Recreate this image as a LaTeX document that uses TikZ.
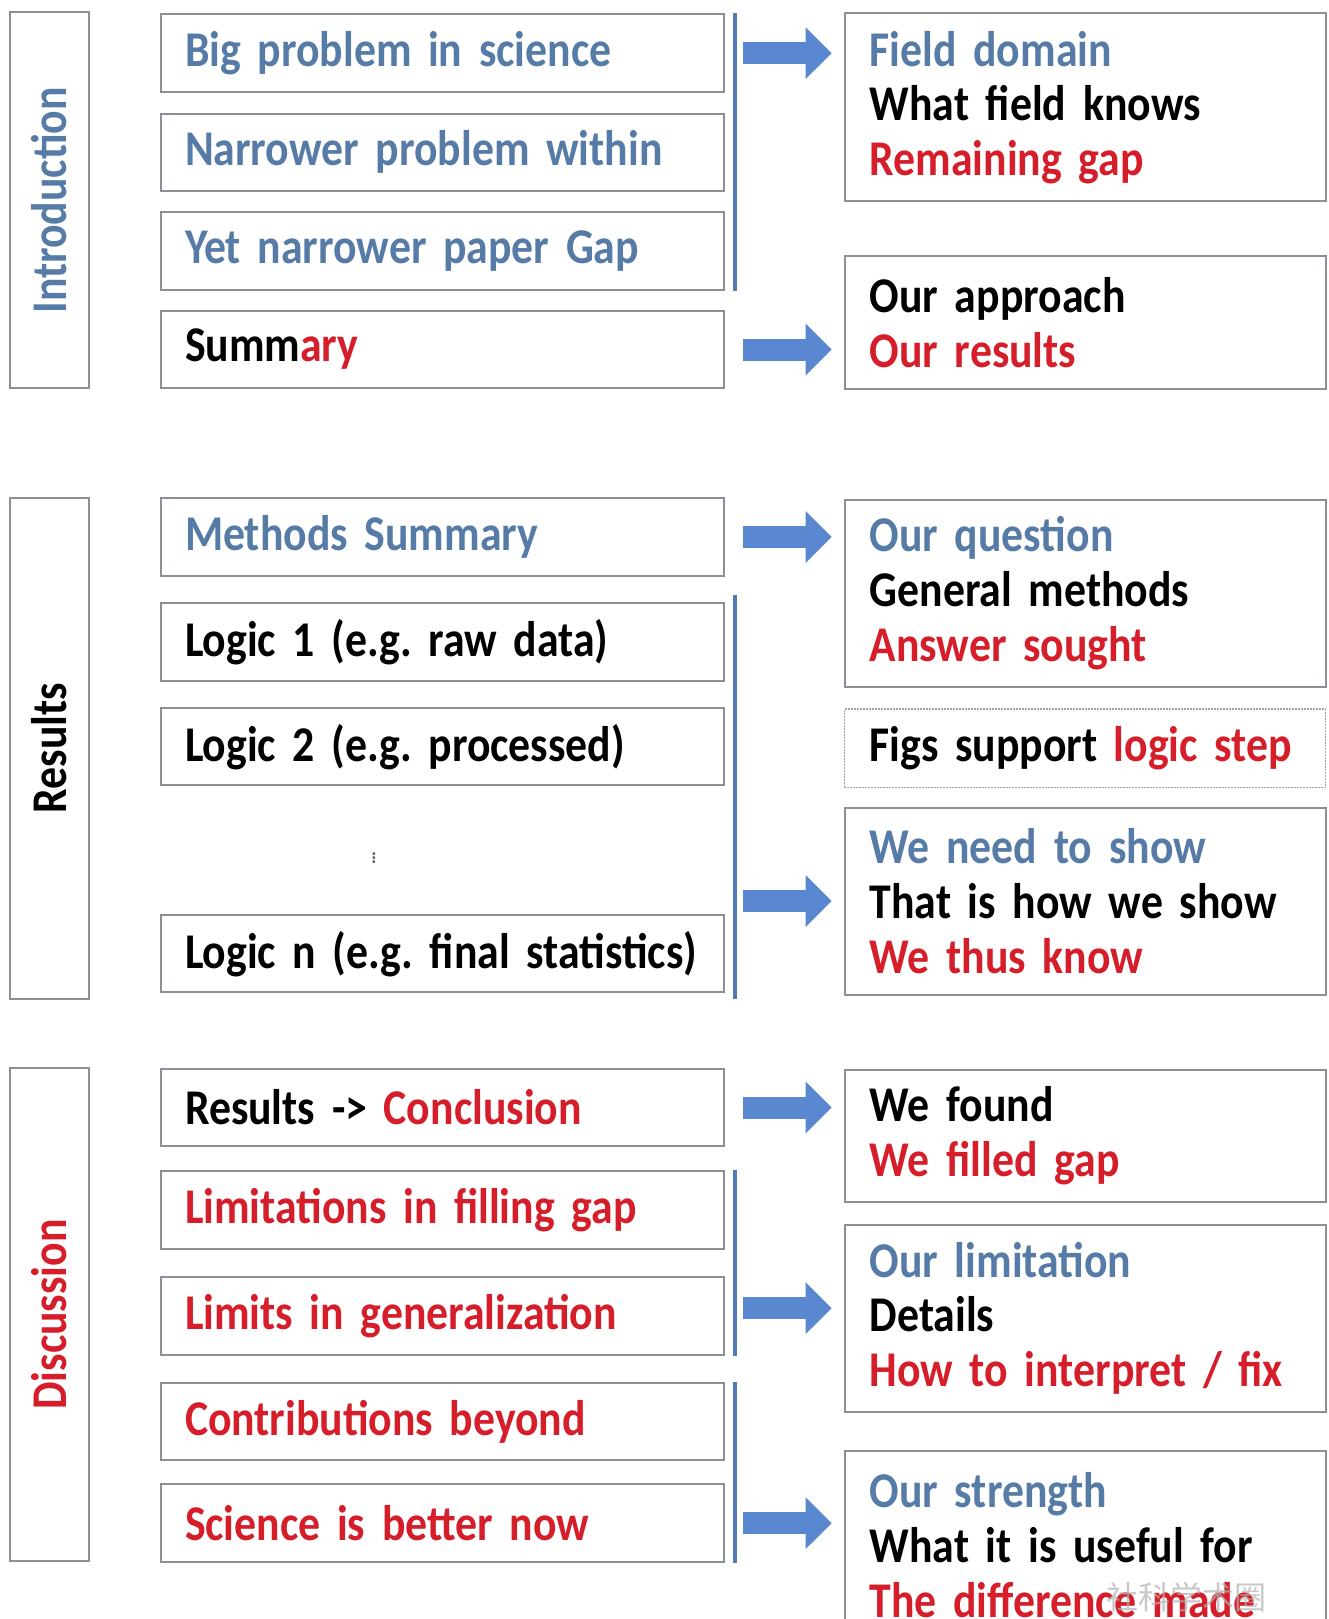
\documentclass[tikz,border=0pt]{standalone}
\usepackage{fontspec}
\setmainfont{Carlito}[FakeStretch=0.875, WordSpace=0.6]
\newfontfamily\cjkfont{Noto Sans CJK SC}
\usepackage{tikz}
\usetikzlibrary{arrows.meta,positioning}
\definecolor{txtblue}{RGB}{86,123,166}
\definecolor{txtred}{RGB}{214,30,42}
\definecolor{boxgray}{RGB}{138,144,150}
\definecolor{barblue}{RGB}{82,122,182}
\definecolor{arrblue}{RGB}{90,136,208}
\frenchspacing
\hyphenpenalty=10000

\begin{document}
\begin{tikzpicture}[x=1pt, y=-1pt,
    font=\bfseries\fontsize{50}{54.7}\selectfont,
    lbox/.style={draw=boxgray, line width=2pt, anchor=west, text width=515pt,
      inner xsep=24pt, minimum height=77.5pt, align=left},
    rbox/.style={draw=boxgray, line width=2pt, anchor=north west, text width=431pt,
      inner xsep=25pt, align=left},
    sidebox/.style={draw=boxgray, line width=2pt, rotate=90, minimum height=78.5pt},
    bar/.style={draw=barblue, line width=4pt},
    bigarrow/.style={arrblue, line width=22pt, -{Triangle[length=26pt,width=50pt]},
      shorten <=18pt, shorten >=12pt}]

    \useasboundingbox[fill=white] (0,0) rectangle (1329,1619);

    % Introduction
    \node[sidebox, minimum width=376pt, text=txtblue] (intro) at (49.5,200.4) {Introduction};
    \node[lbox, text=txtblue] (big) at (160,53.2) {Big problem in science};
    \node[lbox, text=txtblue] (narrow) at (160,152.3) {Narrower problem within};
    \node[lbox, text=txtblue] (gap) at (160,251) {Yet narrower paper Gap};
    \node[lbox] (summ) at (160,349.5) {Summ\textcolor{txtred}{ary}};
    \node[rbox, minimum height=188pt] (field) at (843.7,12.4)
      {\textcolor{txtblue}{Field domain}\\What field knows\\\textcolor{txtred}{Remaining gap}};
    \node[rbox, minimum height=133.3pt] (appr) at (843.7,255)
      {Our approach\\\textcolor{txtred}{Our results}};

    % Results
    \node[sidebox, minimum width=500.8pt] (res) at (49.5,748.2) {Results};
    \node[lbox, text=txtblue] (meth) at (160,537) {Methods Summary};
    \node[lbox] (logA) at (160,641.8) {Logic 1 (e.g. raw data)};
    \node[lbox] (logB) at (160,746.7) {Logic 2 (e.g. processed)};
    \node[text=gray!80!black, font=\fontsize{26}{26}\selectfont] (dots) at (374,855) {$\vdots$};
    \node[lbox] (logN) at (160,953.7) {\mbox{Logic n (e.g. final statistics)}};
    \node[rbox, minimum height=187pt] (quest) at (843.7,498.8)
      {\textcolor{txtblue}{Our question}\\General methods\\\textcolor{txtred}{Answer sought}};
    \node[rbox, draw=boxgray!80, densely dotted, line width=1.5pt, minimum height=78.5pt]
      (figs) at (843.7,708.4) {\mbox{Figs support \textcolor{txtred}{logic step}}};
    \node[rbox, minimum height=187pt] (show) at (843.7,806.5)
      {\textcolor{txtblue}{We need to show}\\That is how we show\\\textcolor{txtred}{We thus know}};

    % Discussion
    \node[sidebox, minimum width=493.6pt, text=txtred] (disc) at (49.5,1314.6) {Discussion};
    \node[lbox] (concl) at (160,1107.5) {Results -> \textcolor{txtred}{Conclusion}};
    \node[lbox, text=txtred] (limA) at (160,1209.8) {Limitations in filling gap};
    \node[lbox, text=txtred] (limB) at (160,1316.2) {Limits in generalization};
    \node[lbox, text=txtred] (contr) at (160,1421.5) {Contributions beyond};
    \node[lbox, text=txtred] (better) at (160,1523.2) {Science is better now};
    \node[rbox, minimum height=132pt] (found) at (843.7,1068.8)
      {We found\\\textcolor{txtred}{We filled gap}};
    \node[rbox, minimum height=187pt] (limit) at (843.7,1223.7)
      {\textcolor{txtblue}{Our limitation}\\Details\\\textcolor{txtred}{How to interpret / fix}};
    \node[rbox, minimum height=188pt] (strength) at (843.7,1450)
      {\textcolor{txtblue}{Our strength}\\What it is useful for\\\textcolor{txtred}{The difference made}};
    \node[text=gray!60, opacity=0.7, font=\cjkfont\fontsize{32}{32}\selectfont]
      (mark) at (1186,1597) {社科学术圈};

    % bars
    \draw[bar] ([xshift=10pt]big.north east) -- ([xshift=10pt]gap.south east);
    \draw[bar] ([xshift=10pt,yshift=7pt]logA.north east) -- ([xshift=10pt,yshift=-6pt]logN.south east);
    \draw[bar] ([xshift=10pt]limA.north east) -- ([xshift=10pt]limB.south east);
    \draw[bar] ([xshift=10pt]contr.north east) -- ([xshift=10pt]better.south east);

    % arrows
    \path[bigarrow]
      (big.east) edge (big.east -| field.west)
      (summ.east) edge (summ.east -| appr.west)
      (meth.east) edge (meth.east -| quest.west)
      (show.west -| logN.east) edge (show.west)
      (concl.east) edge (concl.east -| found.west)
      ([yshift=8pt]limB.east) edge ([yshift=8pt]limB.east -| limit.west)
      (better.east) edge (better.east -| strength.west);
\end{tikzpicture}
\end{document}
